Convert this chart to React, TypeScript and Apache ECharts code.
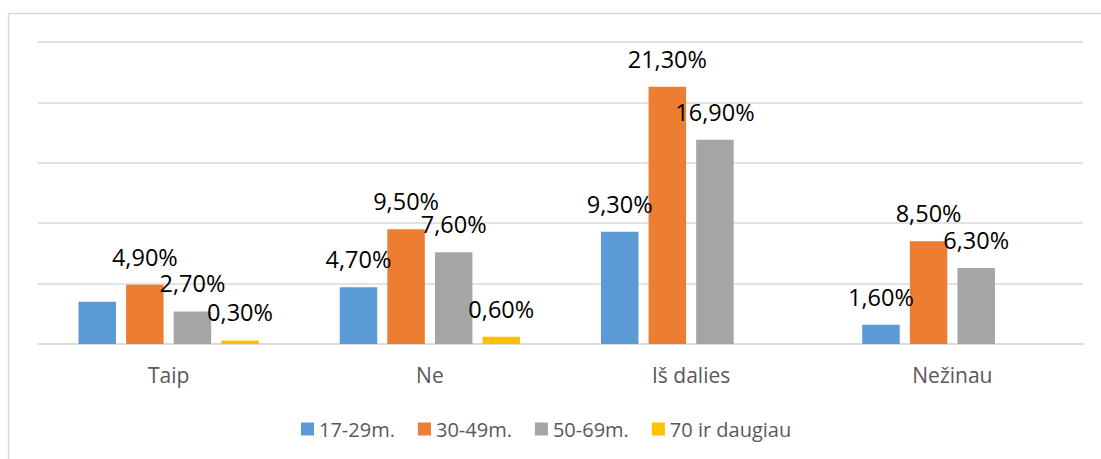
import React, { useEffect, useRef } from "react";
import * as echarts from "echarts";

const categories = ["Taip", "Ne", "Iš dalies", "Nežinau"];
const seriesNames = ["17-29m.", "30-49m.", "50-69m.", "70 ir daugiau"];
const colors = ["#5B9BD5", "#ED7D31", "#A5A5A5", "#FFC000"];
const values: (number | null)[][] = [
  [3.5, 4.7, 9.3, 1.6],
  [4.9, 9.5, 21.3, 8.5],
  [2.7, 7.6, 16.9, 6.3],
  [0.3, 0.6, null, null],
];
// labels shown in the reference (false = no data label)
const labelShown: boolean[][] = [
  [false, true, true, true],
  [true, true, true, true],
  [true, true, true, true],
  [true, true, false, false],
];
const yMax = 25;
const yInterval = 5;

const FONT = "'Open Sans', 'Liberation Sans', sans-serif";

export default function App() {
  const ref = useRef<HTMLDivElement>(null);
  useEffect(() => {
    if (!ref.current) return;
    const chart = echarts.init(ref.current, null, { renderer: "svg" });
    chart.setOption({
      animation: false,
      textStyle: { fontFamily: FONT },
      graphic: [
        {
          type: "polyline",
          shape: { points: [[1101, 13.5], [8.5, 13.5], [8.5, 459]] },
          style: { stroke: "#D9D9D9", lineWidth: 1.5, fill: "none" },
          silent: true,
        },
      ],
      grid: { left: 38, right: 18, top: 42, bottom: 115 },
      legend: {
        left: 296,
        top: 414,
        itemWidth: 13,
        itemHeight: 13,
        itemGap: 23,
        icon: "rect",
        textStyle: { color: "#595959", fontSize: 20, fontFamily: FONT, padding: [0, 0, 0, 0] },
        data: seriesNames,
      },
      xAxis: {
        type: "category",
        data: categories,
        axisLine: { show: true, lineStyle: { color: "#D9D9D9", width: 1.5 } },
        axisTick: { show: false },
        axisLabel: { color: "#595959", fontSize: 21, margin: 20, fontFamily: FONT },
      },
      yAxis: {
        type: "value",
        min: 0,
        max: yMax,
        interval: yInterval,
        axisLabel: { show: false },
        axisLine: { show: false },
        axisTick: { show: false },
        splitLine: { lineStyle: { color: "#D9D9D9", width: 1.5 } },
      },
      series: seriesNames.map((name, si) => ({
        name,
        type: "bar",
        barCategoryGap: "31%",
        barGap: "27%",
        itemStyle: { color: colors[si] },
        label: {
          show: true,
          position: "top",
          distance: 16,
          color: "#000000",
          fontSize: 23.5,
          fontFamily: FONT,
          formatter: (p: any) => p.value.toFixed(2).replace(".", ",") + "%",
        },
        data: values[si].map((v, ci) =>
          v === null ? null : { value: v, label: { show: labelShown[si][ci] } }
        ),
      })),
    });
    return () => chart.dispose();
  }, []);
  return <div ref={ref} style={{ width: 1101, height: 459, position: "absolute", left: 0, top: 0 }} />;
}
